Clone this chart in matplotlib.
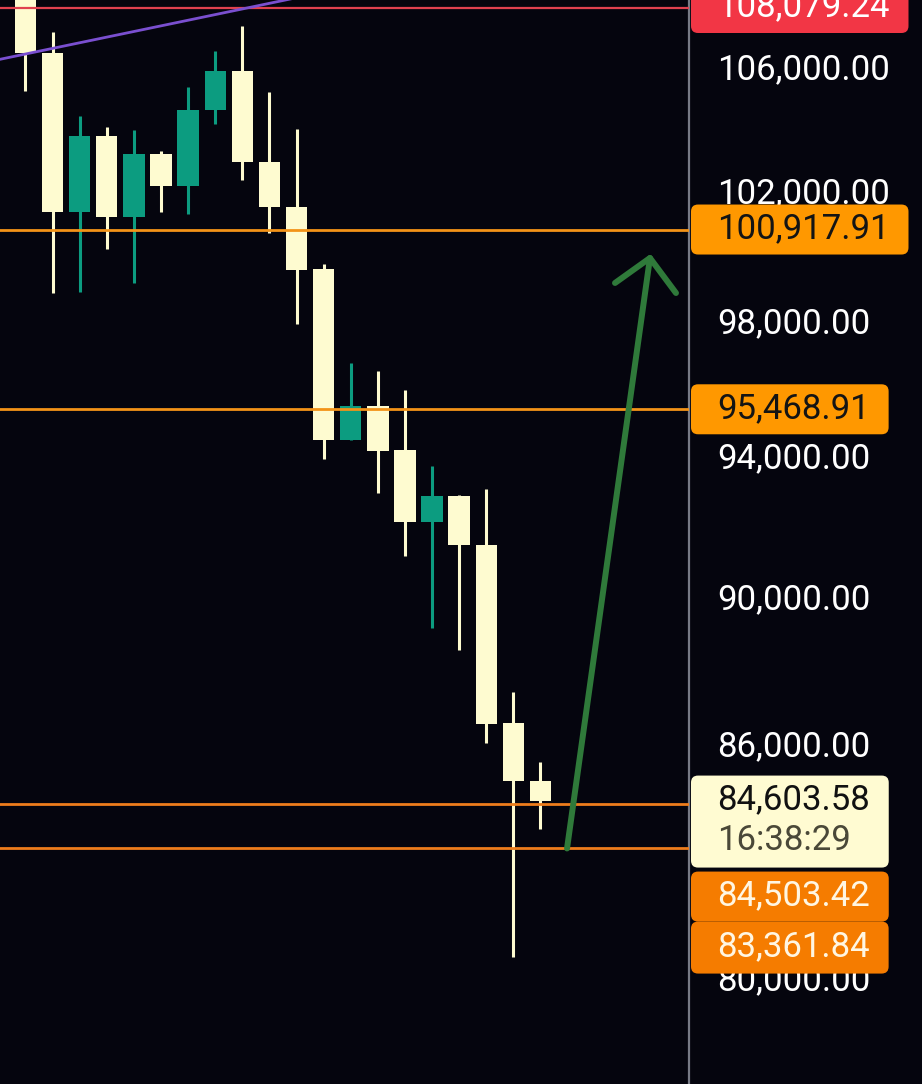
import numpy as np
import matplotlib.pyplot as plt
from matplotlib import transforms as mtransforms
from matplotlib.patches import FancyBboxPatch
from matplotlib.ticker import NullLocator

# colours
BG = "#05050e"
UP = "#0c9c80"
DOWN = "#fefbd0"
AXIS = "#787b86"

# daily candles, oldest first
opens = [109169, 106572, 101466, 103875, 101309, 103299, 102284, 104713, 105981, 103045,
         101622, 99696, 94568, 95566, 94277, 92204, 92947, 91552, 86656, 85118]
highs = [109676, 107265, 104518, 104164, 104067, 103395, 105459, 106638, 107463, 105296,
         104100, 99849, 96843, 96605, 96040, 93812, 92976, 93149, 87489, 85619]
lows = [105328, 98960, 98990, 100313, 99266, 101466, 101403, 104261, 102473, 100810,
        98017, 94016, 94568, 93034, 91242, 89236, 88631, 86120, 80615, 83866]
closes = [106572, 101466, 103875, 101309, 103299, 102284, 104713, 105981, 103045, 101622,
          99665, 94568, 95566, 94248, 92204, 92947, 91552, 86629, 85118, 84603.58]

axis_ticks = [106000, 102000, 98000, 94000, 90000, 86000, 80000]
level_red = 108079.24
levels_top = [100917.91, 95468.91]
levels_low = [84503.42, 83361.84]
last_price = 84603.58
countdown = "16:38:29"

# drawings (bar index, price)
trend_x = [-0.94, 10.0]
trend_y = [106364, 108407]
arrow_x = [19.98, 23.04]
arrow_y = [83361.84, 100035]
head_x = [21.75, 23.04, 24.0]
head_y = [99266, 100035, 98959]

W, H = 922, 1084
fig = plt.figure(figsize=(W / 100, H / 100), dpi=100, facecolor=BG)
ax = fig.add_axes([0, 0, 689 / W, 1])
ax.set_facecolor(BG)
ax.set_yscale("log")
ax.set_xlim(-0.94, 24.48)
ax.set_ylim(77514, 108330)
ax.yaxis.set_major_locator(NullLocator())
ax.yaxis.set_minor_locator(NullLocator())
ax.set_xticks([])
ax.tick_params(which="both", length=0, labelleft=False, labelright=False)
for side in ["top", "left", "bottom"]:
    ax.spines[side].set_visible(False)
ax.spines["right"].set_color(AXIS)
ax.spines["right"].set_linewidth(1.6)

o = np.array(opens, float)
h = np.array(highs, float)
l = np.array(lows, float)
c = np.array(closes, float)
x = np.arange(len(o))
colors = np.where(c > o, UP, DOWN)

ax.vlines(x, l, h, colors=colors, linewidth=2.2, zorder=2)
ax.bar(x, np.abs(c - o), bottom=np.minimum(o, c), width=0.79, color=colors,
       linewidth=0, zorder=3)

ax.axhline(level_red, color="#e0414f", lw=1.6, zorder=4)
for lv in levels_top:
    ax.axhline(lv, color="#f39318", lw=2.0, zorder=4)
for lv in levels_low:
    ax.axhline(lv, color="#ee7d1c", lw=2.0, zorder=4)

ax.plot(trend_x, trend_y, color="#7a4fd0", lw=2.0, zorder=5)
ax.plot(arrow_x, arrow_y, color="#2f7a3a", lw=4.3, solid_capstyle="round", zorder=6)
ax.plot(head_x, head_y, color="#2f7a3a", lw=4.3, solid_capstyle="round",
        solid_joinstyle="round", zorder=6)

# price scale labels, drawn in pixel space
ident = mtransforms.IdentityTransform()
FONT = "Roboto"
FS = 25
TX = 717
DY = 1  # text sits a little above its tick


def to_disp(p):
    return ax.transData.transform((0, p))[1]


for t in axis_ticks:
    fig.text(TX, to_disp(t) + DY, f"{t:,.2f}", transform=ident, color="white",
             fontsize=FS, family=FONT, ha="left", va="center", zorder=1)

fig.canvas.draw()
renderer = fig.canvas.get_renderer()


def label(yc, text, color, fg, height=50, extra=None):
    t = fig.text(TX, yc + DY, text, transform=ident, color=fg, fontsize=FS,
                 family=FONT, ha="left", va="center", zorder=11)
    right = t.get_window_extent(renderer).x1 + 19
    top = yc + height / 2
    if extra is not None:
        top = yc + 25
    box = FancyBboxPatch((691, top - height), right - 691, height,
                         boxstyle="round,pad=0,rounding_size=7", transform=ident,
                         facecolor=color, edgecolor="none", zorder=10)
    fig.add_artist(box)
    return t


label(to_disp(level_red), f"{level_red:,.2f}", "#f23645", "white", 51)
for lv in levels_top:
    label(to_disp(lv), f"{lv:,.2f}", "#ff9800", "#141414")

yl = to_disp(last_price)
label(yl, f"{last_price:,.2f}", "#fffbd2", "#111111", height=92, extra=True)
fig.text(TX, yl - 40, countdown, transform=ident, color="#4a4838", fontsize=FS,
         family=FONT, ha="left", va="center", zorder=11)
label(yl - 92 - 4, f"{levels_low[0]:,.2f}", "#f57c00", "#fff6e2")
label(yl - 143 - 4, f"{levels_low[1]:,.2f}", "#f57c00", "#fff6e2", 52)

fig.savefig("out.png", dpi=100, facecolor=BG)
